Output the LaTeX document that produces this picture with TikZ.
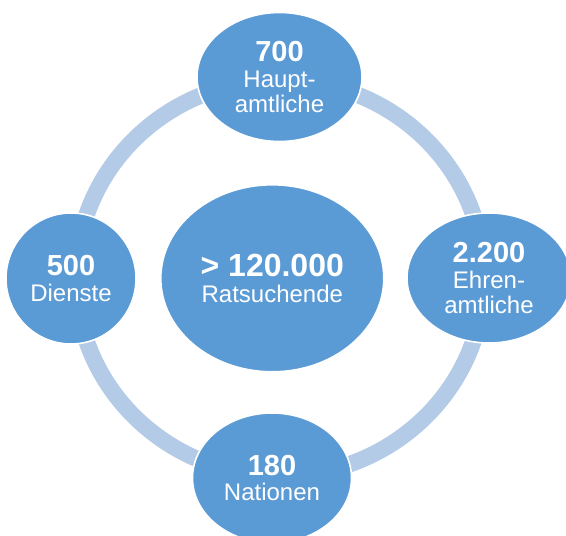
\documentclass[tikz,border=0pt]{standalone}
\usepackage{fontspec}
\setmainfont{Liberation Sans}
\usetikzlibrary{shapes.geometric}
\definecolor{nodeblue}{HTML}{5B9BD5}
\definecolor{ringblue}{HTML}{B4CBE7}
\tikzset{
  bubble/.style={ellipse, fill=nodeblue, draw=white, line width=1.6pt, inner sep=0pt,
    text=white, align=center, font=\fontsize{24}{25.5}\selectfont},
  ring/.style={draw=ringblue, line width=16.5pt},
}
\newcommand{\bignum}[1]{{\fontsize{29}{25.5}\selectfont\bfseries #1}}
\begin{document}
\begin{tikzpicture}[x=1pt,y=-1pt]
\clip (0,0) rectangle (566,536);
\fill[white] (0,0) rectangle (566,536);
\draw[ring] (280,278) ellipse [x radius=204pt, y radius=198pt];
\node[bubble, minimum width=165pt, minimum height=129pt] (top) at (279.5,77) {\bignum{700}\\Haupt-\\amtliche};
\node[bubble, minimum width=130pt, minimum height=131pt] (left) at (71,278.5) {\bignum{500}\\Dienste};
\node[bubble, minimum width=164pt, minimum height=130pt] (right) at (489,278) {\bignum{2.200}\\Ehren-\\amtliche};
\node[bubble, minimum width=159pt, minimum height=130pt] (bottom) at (272,478) {\bignum{180}\\Nationen};
\node[bubble, minimum width=223pt, minimum height=187pt] (center) at (272.3,278.3) {{\fontsize{32}{25.5}\selectfont\bfseries > 120.000}\\Ratsuchende};
\end{tikzpicture}
\end{document}
